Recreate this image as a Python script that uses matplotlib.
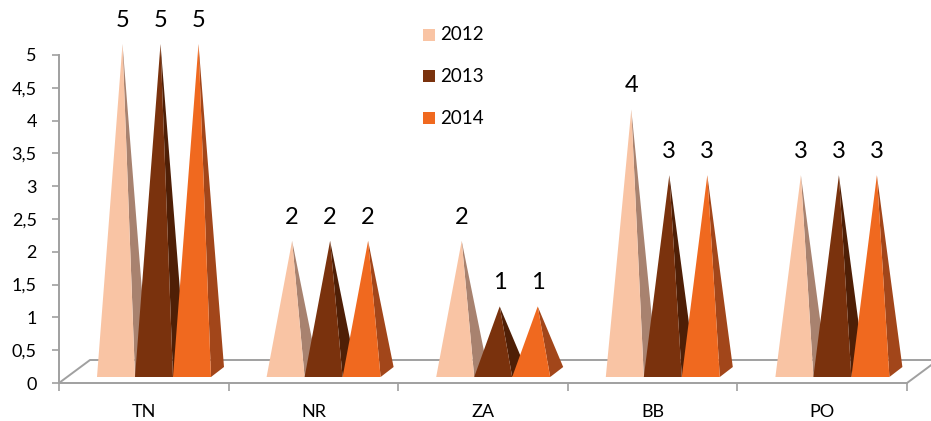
import matplotlib
matplotlib.use("Agg")
import matplotlib.pyplot as plt
from matplotlib.patches import Polygon, Rectangle

plt.rcParams['font.family'] = ['Lato', 'DejaVu Sans']

# Data
categories = ["TN", "NR", "ZA", "BB", "PO"]
series_names = ["2012", "2013", "2014"]
values_2012 = [5, 2, 2, 4, 3]
values_2013 = [5, 2, 1, 3, 3]
values_2014 = [5, 2, 1, 3, 3]
y_ticks = [0, 0.5, 1, 1.5, 2, 2.5, 3, 3.5, 4, 4.5, 5]
y_tick_labels = ["0", "0,5", "1", "1,5", "2", "2,5", "3", "3,5", "4", "4,5", "5"]

series_values = [values_2012, values_2013, values_2014]
front_colors = ["#F9C4A4", "#7A320D", "#F0691F"]
side_colors = ["#A8826F", "#4F1F06", "#A2461A"]

W, H = 931, 421
fig = plt.figure(figsize=(W / 100, H / 100), dpi=100)
x_left, x_right, y_zero, y_top = 59, 907, 383, 55
ax = fig.add_axes([x_left / W, (H - y_zero) / H, (x_right - x_left) / W, (y_zero - y_top) / H])
ax.set_xlim(0, len(categories))
ax.set_ylim(0, 5)

px_x = len(categories) / (x_right - x_left)   # data units per pixel (x)
px_y = 5 / (y_zero - y_top)                   # data units per pixel (y)

axis_color = "#A0A0A0"

# Floor of the 3D plot
fdx, fdy = 31 * px_x, 23 * px_y
ax.plot([0, fdx, len(categories) + fdx, len(categories)], [0, fdy, fdy, 0],
        color=axis_color, lw=1.4, clip_on=False, zorder=1)

# Pyramids
offset = 38 * px_x
bw = 38 * px_x
ddx, ddy = 13 * px_x, 10 * px_y
base = 6 * px_y
for i in range(len(categories)):
    for j, vals in enumerate(series_values):
        x0 = i + offset + j * bw
        ax_ = x0 + bw / 2 + ddx / 2
        ay_ = base + ddy / 2 + vals[i]
        front = Polygon([(x0, base), (x0 + bw, base), (ax_, ay_)], closed=True,
                        facecolor=front_colors[j], edgecolor="none", zorder=3 + j, clip_on=False)
        side = Polygon([(x0 + bw, base), (x0 + bw + ddx, base + ddy), (ax_, ay_)], closed=True,
                       facecolor=side_colors[j], edgecolor="none", zorder=3 + j, clip_on=False)
        ax.add_patch(side)
        ax.add_patch(front)
        ax.annotate(str(vals[i]), (ax_, ay_), xytext=(0, 17), textcoords="offset points",
                    ha="center", va="center", fontsize=17, color="black", zorder=10,
                    annotation_clip=False)

# Axes styling
for s in ["top", "right"]:
    ax.spines[s].set_visible(False)
for s in ["left", "bottom"]:
    ax.spines[s].set_color(axis_color)
    ax.spines[s].set_linewidth(1.4)
    ax.spines[s].set_zorder(2)

ax.set_yticks(y_ticks)
ax.set_yticklabels(y_tick_labels)
ax.tick_params(axis="y", direction="out", length=5, width=1.2, color=axis_color,
               labelsize=13, pad=11, labelcolor="black")

ax.set_xticks(range(len(categories) + 1))
ax.set_xticklabels([])
ax.tick_params(axis="x", which="major", direction="out", length=6, width=1.2, color=axis_color)
ax.set_xticks([i + 0.5 for i in range(len(categories))], minor=True)
ax.set_xticklabels(categories, minor=True)
ax.tick_params(axis="x", which="minor", length=0, labelsize=13, pad=15, labelcolor="black")
ax.patch.set_visible(False)

# Legend
leg_y = [35, 76, 118]
for j, name in enumerate(series_names):
    yc = leg_y[j]
    fig.patches.append(Rectangle((423 / W, (H - yc - 6) / H), 12 / W, 12 / H,
                                 transform=fig.transFigure, facecolor=front_colors[j],
                                 edgecolor="none"))
    fig.text(440 / W, (H - yc) / H, name, ha="left", va="center", fontsize=13.5, color="black")

fig.savefig("out.png", dpi=100)
